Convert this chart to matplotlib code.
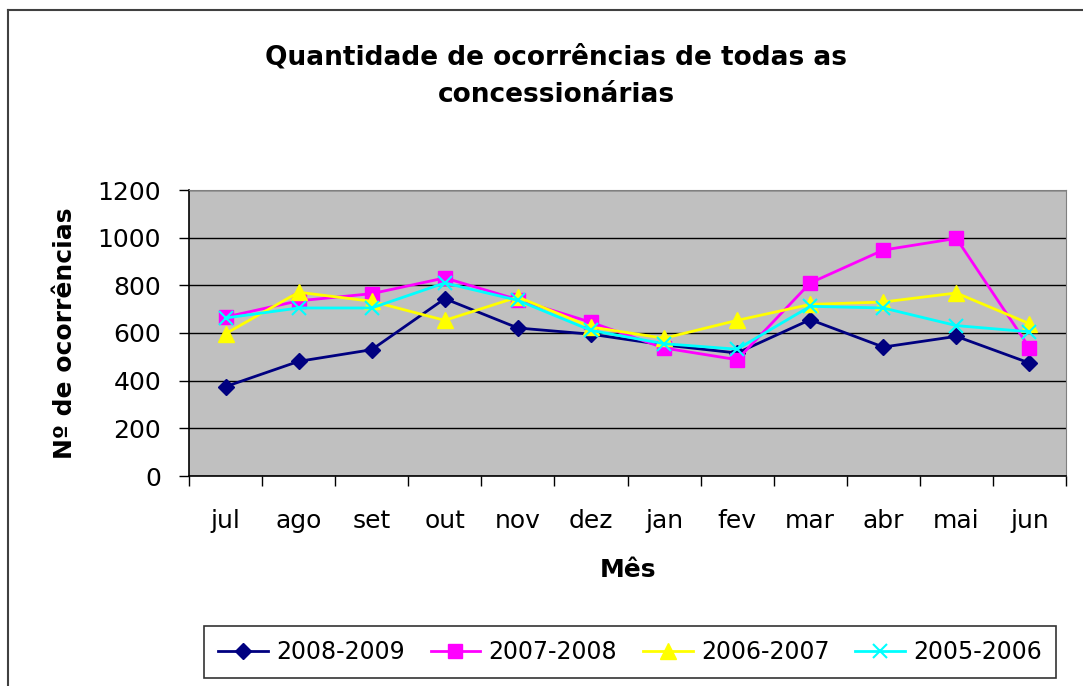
import matplotlib
matplotlib.use('Agg')
import matplotlib.pyplot as plt
import numpy as np
from matplotlib.lines import Line2D

plt.rcParams['font.family'] = ['DejaVu Sans']

# dados
meses = ['jul', 'ago', 'set', 'out', 'nov', 'dez', 'jan', 'fev', 'mar', 'abr', 'mai', 'jun']
s2008_2009 = [375, 481, 530, 744, 621, 595, 550, 516, 656, 541, 586, 474]
s2007_2008 = [667, 735, 765, 831, 740, 645, 537, 488, 810, 948, 997, 538]
s2006_2007 = [597, 771, 733, 653, 751, 625, 578, 653, 720, 730, 768, 639]
s2005_2006 = [663, 705, 705, 810, 737, 611, 555, 532, 712, 705, 631, 605]
rotulos = ['2008-2009', '2007-2008', '2006-2007', '2005-2006']

fig = plt.figure(figsize=(10.83, 6.86), dpi=100)
ax = fig.add_axes([189/1083, 1-476/686, (1066-189)/1083, (476-190)/686])
ax.set_facecolor('#C0C0C0')

x = np.arange(len(meses))
ax.plot(x, s2008_2009, color='#000080', marker='D', markersize=8, lw=2, label=rotulos[0])
ax.plot(x, s2007_2008, color='#FF00FF', marker='s', markersize=10, lw=2, label=rotulos[1])
ax.plot(x, s2006_2007, color='#FFFF00', marker='^', markersize=11, lw=2, label=rotulos[2])
ax.plot(x, s2005_2006, color='#00FFFF', marker='x', markersize=10, mew=1.5, lw=2, label=rotulos[3])

ax.set_ylim(0, 1200)
ax.set_yticks(range(0, 1201, 200))
ax.set_xlim(-0.5, len(meses) - 0.5)
ax.set_xticks(x)
ax.set_xticklabels(meses)
ax.set_xticks(np.arange(-0.5, len(meses), 1), minor=True)
ax.tick_params(axis='x', which='major', length=0, pad=24, labelsize=18)
ax.tick_params(axis='x', which='minor', length=7, width=1, direction='out')
ax.tick_params(axis='y', length=7, width=1, direction='out', pad=13, labelsize=18)
ax.yaxis.grid(True, color='black', lw=1)
ax.set_axisbelow(True)
for s in ['top', 'right']:
    ax.spines[s].set_color('#808080')
for s in ['left', 'bottom']:
    ax.spines[s].set_color('black')
    ax.spines[s].set_linewidth(1.2)

ax.set_ylabel('Nº de ocorrências', fontsize=18, fontweight='bold', labelpad=15)
ax.set_xlabel('Mês', fontsize=18, fontweight='bold', labelpad=18)

fig.text(556/1083, 1-76/686, 'Quantidade de ocorrências de todas as\nconcessionárias',
         ha='center', va='center', fontsize=19, fontweight='bold', linespacing=1.6)

leg = fig.legend(loc='center', bbox_to_anchor=(630/1083, 1-652/686), ncol=4,
                 fontsize=17, frameon=True, fancybox=False, edgecolor='black',
                 handlelength=2.1, columnspacing=1.1, handletextpad=0.35, borderpad=0.6)
leg.get_frame().set_linewidth(1.2)

# moldura do gráfico
fig.add_artist(Line2D([8/1083, 8/1083], [0, 1-10/686], color='#404040', lw=1.5))
fig.add_artist(Line2D([8/1083, 1], [1-10/686, 1-10/686], color='#404040', lw=1.5))

fig.savefig('out.png', dpi=100)
